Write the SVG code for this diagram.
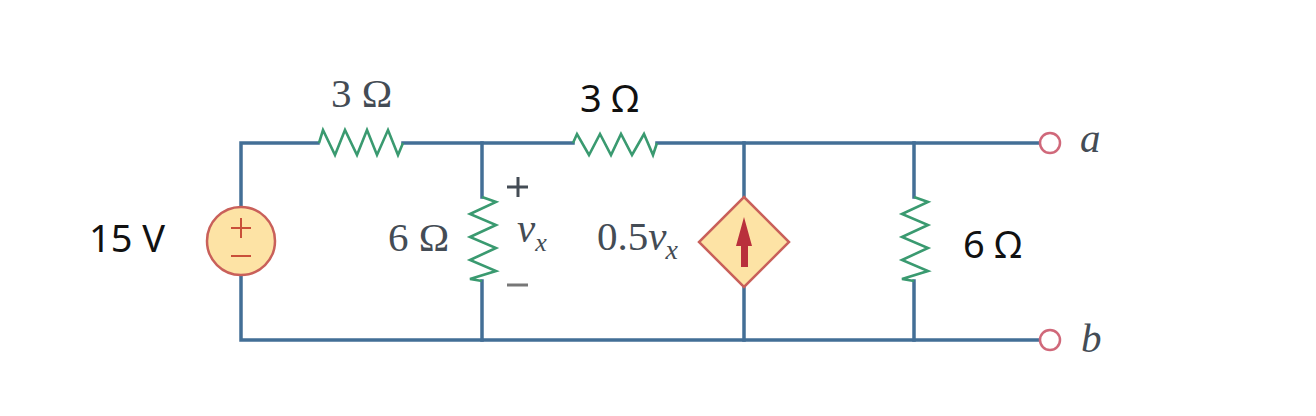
<svg xmlns="http://www.w3.org/2000/svg" width="1316" height="416" viewBox="0 0 1316 416">
<style>
.w{fill:none;stroke:#436f96;stroke-width:3.5;stroke-linecap:square}
.r{fill:none;stroke:#3a9a70;stroke-width:2.6;stroke-linejoin:miter}
.s{fill:#fde3a5;stroke:#c9605a;stroke-width:2.5}
.t{fill:#fff;stroke:#d0687a;stroke-width:2.5}
.serif{font-family:"Liberation Serif",serif;font-size:41px;fill:#444c55}
.sans{font-family:"Noto Sans","Open Sans",sans-serif;font-size:38px;fill:#111}
.i{font-style:italic}
</style>
<rect width="1316" height="416" fill="#fff"/>
<g id="connectors">
<path class="w" d="M241 207V143H318M403 143H573M657 143H1039"/>
<path class="w" d="M241 276V340H1039"/>
<path class="w" d="M482 143V197M482 281V340"/>
<path class="w" d="M744 143V197M744 287V340"/>
<path class="w" d="M914 143V197M914 281V340"/>
</g>
<g id="r1"><path class="r" d="M319 143L323 130L335 155L345 130L357 155L367 130L377 155L388 130L398 155L403 143"/><text class="serif" x="331" y="107">3 Ω</text></g>
<g id="r2"><path class="r" d="M482 197L496 202L470 214L496 225L470 237L496 248L470 260L496 271L470 279L482 281"/><text class="serif" x="388" y="251">6 Ω</text></g>
<g id="r3"><path class="r" d="M573 143L577 134L589 155L600 134L611 155L621 134L632 155L644 134L653 155L657 143"/><text class="sans" x="580" y="112">3 Ω</text></g>
<g id="r4"><path class="r" d="M914 197L928 202L902 214L928 225L902 237L928 248L902 260L928 271L902 279L914 281"/><text class="sans" x="963" y="258">6 Ω</text></g>
<g id="source"><circle class="s" cx="241" cy="241" r="34"/><path d="M241 218V238M231 228H251M231 256H251" fill="none" stroke="#c9503a" stroke-width="2"/><text class="sans" x="89" y="252">15 V</text></g>
<g id="dependent"><path class="s" d="M744 197L789 242L744 287L699 242Z"/><path d="M744 217L752 246H748V267H741V246H736Z" fill="#b9303c"/><text class="serif" x="597" y="250">0.5<tspan class="i">v</tspan><tspan class="i" font-size="28" dx="-1" dy="9">x</tspan></text></g>
<g id="vx"><path d="M507 187H528M518 177V197" fill="none" stroke="#444c55" stroke-width="3"/><path d="M507 285H528" fill="none" stroke="#777" stroke-width="3"/><text class="serif i" x="517" y="242" font-size="30">v<tspan font-size="26" dy="9">x</tspan></text></g>
<g id="a"><circle class="t" cx="1050" cy="143" r="10"/><text class="serif i" x="1080" y="152">a</text></g>
<g id="b"><circle class="t" cx="1050" cy="340" r="10"/><text class="serif i" x="1081" y="352">b</text></g>
</svg>
